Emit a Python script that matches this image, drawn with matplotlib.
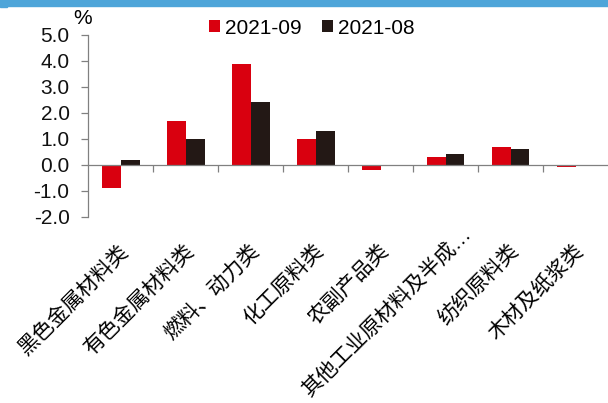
import numpy as np
import matplotlib
matplotlib.use("Agg")
import matplotlib.pyplot as plt
from matplotlib.patches import Rectangle

plt.rcParams['font.family'] = ['Liberation Sans', 'Noto Sans CJK SC']
plt.rcParams['axes.unicode_minus'] = False

# 数据
categories = ['黑色金属材料类', '有色金属材料类', '燃料、动力类', '化工原料类',
              '农副产品类', '其他工业原材料及半成…', '纺织原料类', '木材及纸浆类']
sep_2021 = [-0.9, 1.7, 3.9, 1.0, -0.2, 0.3, 0.7, -0.1]
aug_2021 = [0.2, 1.0, 2.4, 1.3, 0.0, 0.4, 0.6, 0.0]
series_names = ['2021-09', '2021-08']
y_ticks = [-2.0, -1.0, 0.0, 1.0, 2.0, 3.0, 4.0, 5.0]

red = '#D9000F'
dark = '#231815'
grey = '#808080'
fs = 15

fig = plt.figure(figsize=(6.08, 4.03), dpi=100)
W, H = 608, 403
ax = fig.add_axes([88.3 / W, 1 - 216.7 / H, 1 - 88.3 / W, (216.7 - 35) / H])

x = np.arange(len(categories))
bw = 0.29
b1 = ax.bar(x - bw / 2, sep_2021, bw, color=red, label=series_names[0])
b2 = ax.bar(x + bw / 2, aug_2021, bw, color=dark, label=series_names[1])

ax.set_xlim(-0.5, len(categories) - 0.5)
ax.set_ylim(-2, 5)
ax.set_yticks(y_ticks)
ax.set_yticklabels([f'{v:.1f}' for v in y_ticks], fontsize=fs, color='#111111')

for s in ['top', 'right']:
    ax.spines[s].set_visible(False)
ax.spines['bottom'].set_position(('data', 0))
for s in ['left', 'bottom']:
    ax.spines[s].set_color(grey)
    ax.spines[s].set_linewidth(0.9)

ax.set_xticks(np.arange(0.5, len(categories) - 0.5, 1))
ax.set_xticklabels([])
ax.tick_params(axis='x', direction='out', length=5, width=0.9, color=grey)
ax.tick_params(axis='y', direction='out', length=5, width=0.9, color=grey, pad=8.5)

# 类别标签（45°），截断的长标签向右上挪一点，免得出界
for i, c in enumerate(categories):
    dx, dy = -2, -24
    if c.endswith('…'):
        dx, dy = 15, -7
    ax.annotate(c, xy=(i, 0), xycoords=('data', 'axes fraction'),
                xytext=(dx, dy), textcoords='offset pixels',
                rotation=45, rotation_mode='anchor', ha='right', va='top',
                fontsize=fs, color='black')

fig.text(82.5 / W, 1 - 18.5 / H, '%', fontsize=fs, ha='center', va='center')

fig.legend(handles=[b1, b2], loc='center left',
           bbox_to_anchor=(209 / W, 1 - 28 / H), ncol=2, frameon=False,
           fontsize=fs, handlelength=0.52, handleheight=0.52,
           handletextpad=0.24, columnspacing=1.0, borderpad=0, borderaxespad=0)

# 顶部蓝条
fig.patches.append(Rectangle((0, 1 - 6 / H), 1, 6 / H, transform=fig.transFigure,
                             color='#4EA5D9', zorder=5))
fig.patches.append(Rectangle((0, 1 - 7 / H), 7 / W, 7 / H, transform=fig.transFigure,
                             color='#4EA5D9', zorder=5))

fig.savefig('out.png', dpi=100)
